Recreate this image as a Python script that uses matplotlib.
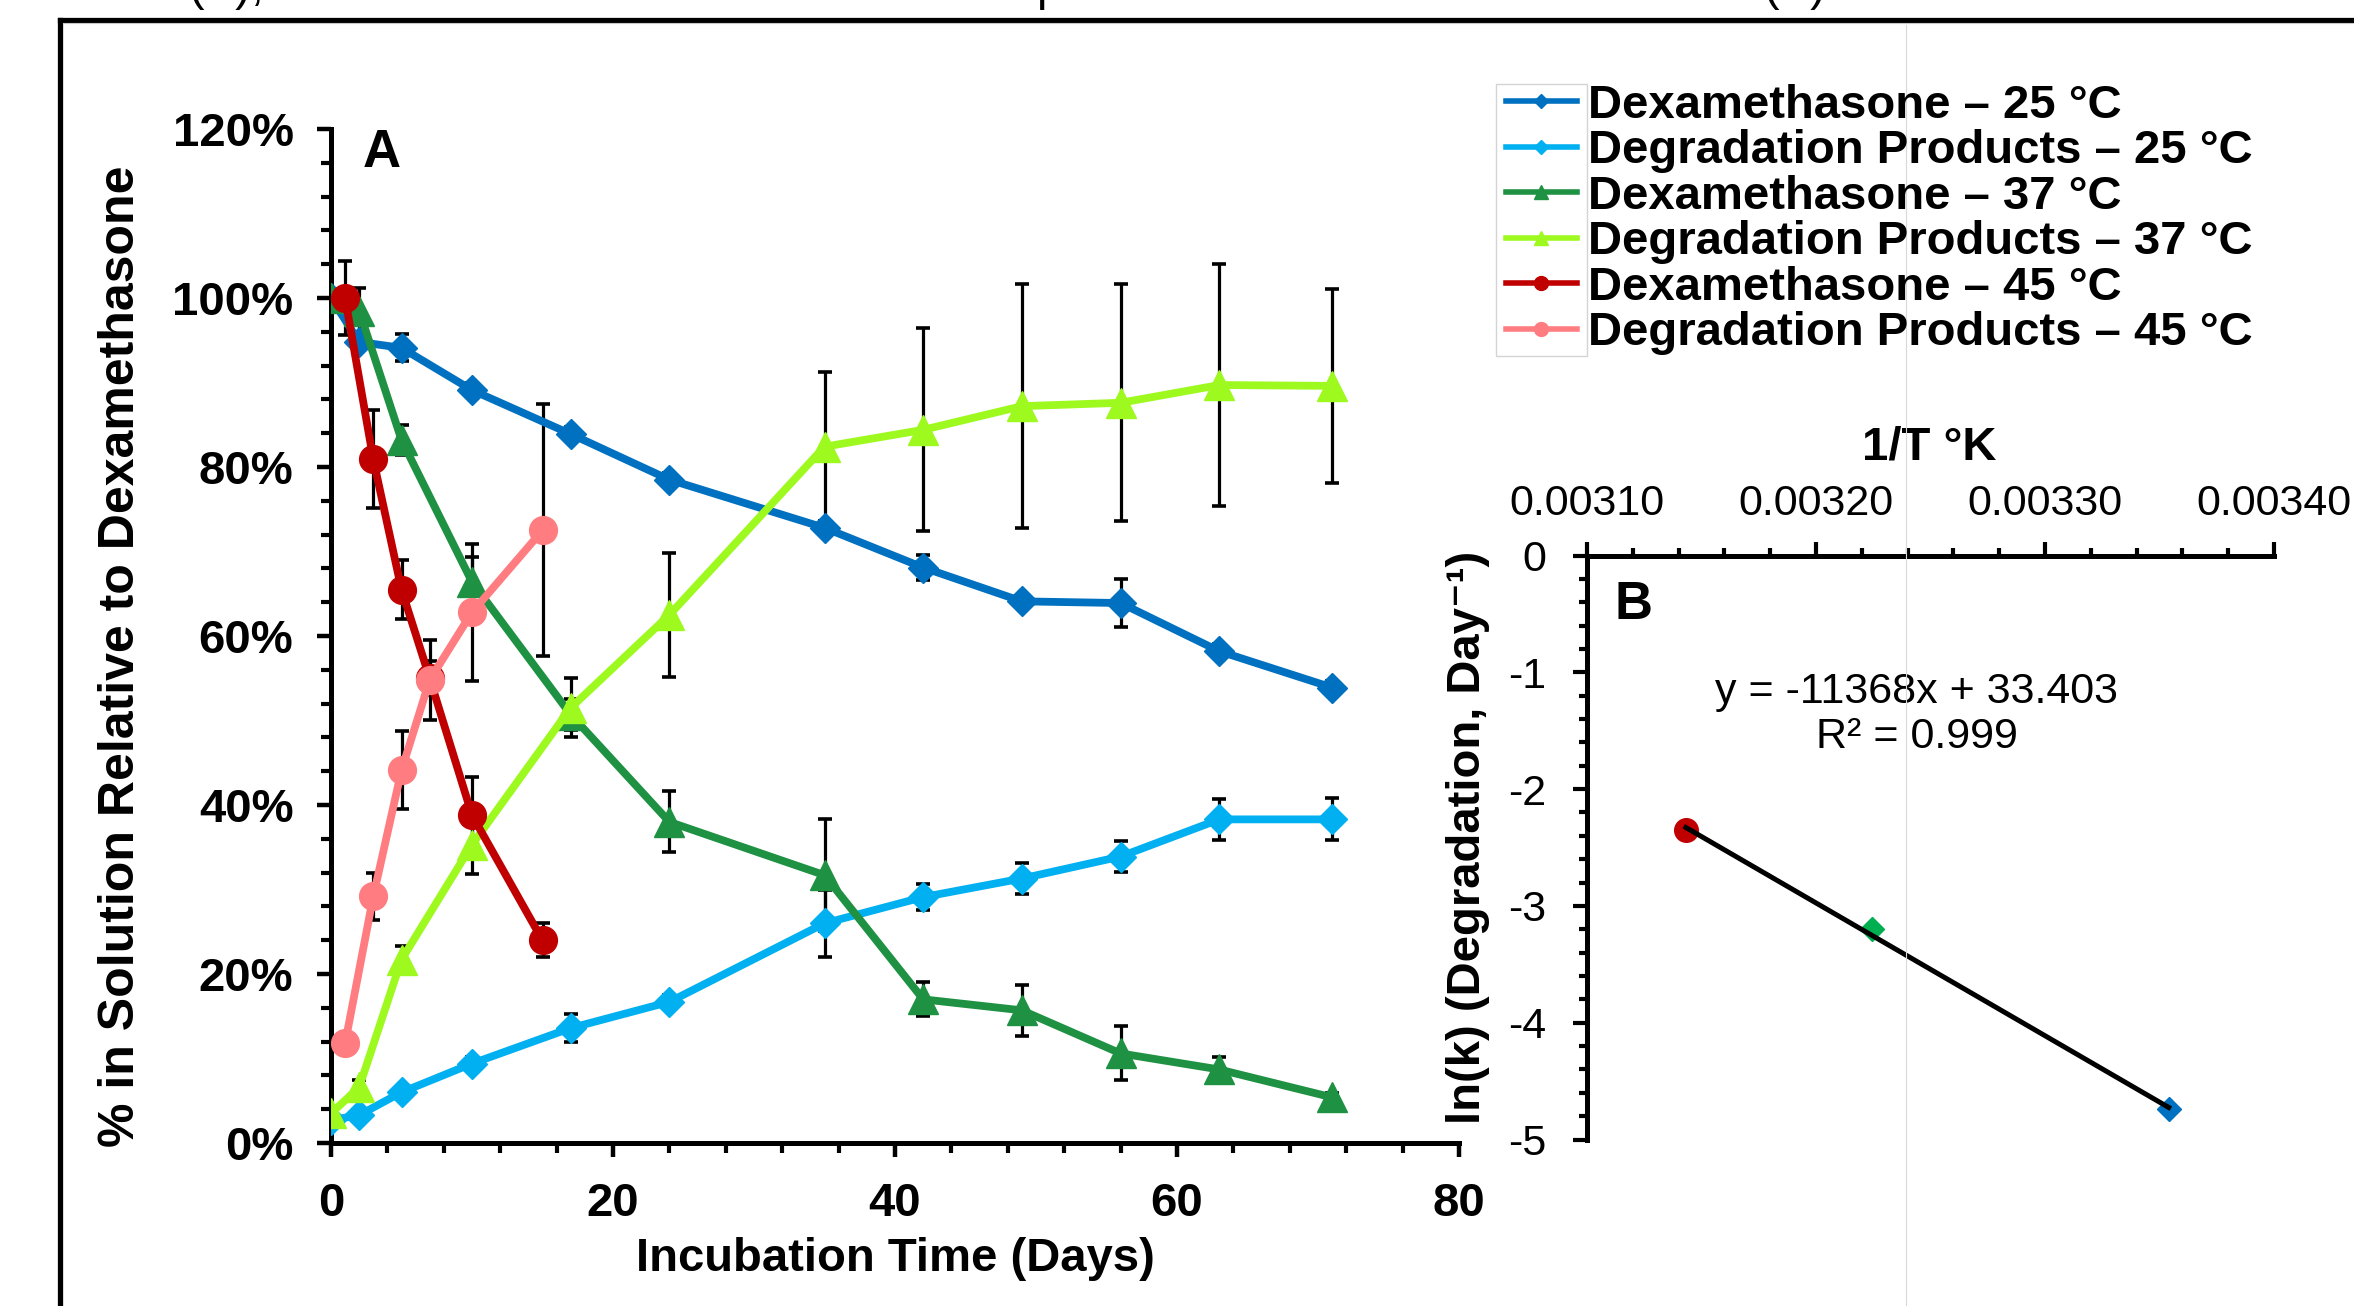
import numpy as np
import matplotlib
matplotlib.use('Agg')
import matplotlib.pyplot as plt
from matplotlib.ticker import MultipleLocator, PercentFormatter, FormatStrFormatter
from matplotlib.lines import Line2D
from matplotlib.patches import Rectangle

plt.rcParams['font.family'] = ['Liberation Sans', 'DejaVu Sans']
plt.rcParams['font.weight'] = 'bold'
plt.rcParams['axes.unicode_minus'] = False

# --- panel A: % in solution over time -------------------------------------
days_25_37 = [0, 2, 5, 10, 17, 24, 35, 42, 49, 56, 63, 71]
days_45 = [1, 3, 5, 7, 10, 15]

dex_25 = [100, 94.8, 94.1, 89.1, 83.9, 78.5, 72.8, 68.1, 64.1, 63.9, 58.2, 53.9]
dex_25_err = [0, 0.8, 1.6, 0.8, 0.8, 0.8, 0.8, 1.5, 0.8, 2.8, 0.8, 0.8]
deg_25 = [2.7, 3.3, 6.0, 9.4, 13.6, 16.7, 26.0, 29.1, 31.3, 33.9, 38.3, 38.3]
deg_25_err = [0, 0, 0.8, 0.8, 1.7, 0.8, 4.0, 1.5, 1.8, 1.8, 2.4, 2.5]

dex_37 = [100, 98.5, 83.2, 66.4, 50.7, 38.0, 31.7, 17.0, 15.7, 10.6, 8.7, 5.4]
dex_37_err = [0, 2.7, 1.8, 2.9, 1.8, 3.6, 6.6, 2.0, 3.0, 3.2, 1.5, 0.5]
deg_37 = [3.5, 6.6, 21.7, 35.3, 51.5, 62.5, 82.4, 84.4, 87.2, 87.6, 89.7, 89.6]
deg_37_err = [0, 0.8, 1.6, 3.5, 3.5, 7.3, 8.8, 12.0, 14.4, 14.0, 14.3, 11.5]

dex_45 = [100, 80.9, 65.5, 55.0, 38.8, 24.0]
dex_45_err = [4.4, 5.8, 3.5, 2.0, 4.5, 2.0]
deg_45 = [11.8, 29.2, 44.1, 54.8, 62.8, 72.5]
deg_45_err = [0.8, 2.8, 4.6, 4.7, 8.1, 14.9]

labels = ['Dexamethasone – 25 °C', 'Degradation Products – 25 °C',
          'Dexamethasone – 37 °C', 'Degradation Products – 37 °C',
          'Dexamethasone – 45 °C', 'Degradation Products – 45 °C']

# --- panel B: Arrhenius plot -------------------------------------------------
temps_c = [45, 37, 25]
ln_k = [-2.35, -3.20, -4.74]
trend_slope = -11368
trend_intercept = 33.403
r_squared = 0.999

W, H = 2354, 1306
fig = plt.figure(figsize=(W / 100, H / 100), dpi=100)

axA = fig.add_axes([331 / W, 1 - 1143 / H, 1128 / W, 1014 / H])

series = [
    (days_25_37, dex_25, dex_25_err, '#0070C0', 'D', 15),
    (days_25_37, deg_25, deg_25_err, '#00B0F0', 'D', 15),
    (days_25_37, dex_37, dex_37_err, '#1F9142', '^', 21),
    (days_25_37, deg_37, deg_37_err, '#9EF91E', '^', 21),
    (days_45, dex_45, dex_45_err, '#C00000', 'o', 20),
    (days_45, deg_45, deg_45_err, '#FF7C80', 'o', 20),
]

handles = []
for i, (x, y, err, col, mk, ms) in enumerate(series):
    axA.errorbar(x, y, yerr=err, fmt='none', ecolor='black', elinewidth=2.3,
                 capsize=5, capthick=2.6, zorder=2)
    axA.plot(x, y, color=col, marker=mk, markersize=ms, lw=5.6,
             markeredgecolor=col, zorder=3 + i)
    handles.append(Line2D([], [], color=col, marker=mk, lw=4,
                          markersize=ms * 0.5, markeredgecolor=col))

axA.set_xlim(0, 80)
axA.set_ylim(0, 120)
axA.xaxis.set_major_locator(MultipleLocator(20))
axA.xaxis.set_minor_locator(MultipleLocator(4))
axA.yaxis.set_major_locator(MultipleLocator(20))
axA.yaxis.set_minor_locator(MultipleLocator(4))
axA.yaxis.set_major_formatter(PercentFormatter(xmax=100, decimals=0))
for s in ['top', 'right']:
    axA.spines[s].set_visible(False)
for s in ['left', 'bottom']:
    axA.spines[s].set_linewidth(3.6)
axA.tick_params(which='major', direction='out', length=10, width=3.2,
                labelsize=34)
axA.tick_params(axis='y', which='major', pad=17)
axA.tick_params(axis='x', which='major', pad=18)
axA.tick_params(which='minor', direction='out', length=7, width=3)
axA.set_xlabel('Incubation Time (Days)', fontsize=34, fontweight='bold')
axA.set_ylabel('% in Solution Relative to Dexamethasone', fontsize=36,
               fontweight='bold')
axA.xaxis.set_label_coords(0.5, -0.093)
axA.yaxis.set_label_coords(-0.166, 0.48)
axA.text(0.045, 0.976, 'A', transform=axA.transAxes, fontsize=38,
         fontweight='bold', va='center', ha='center')

fig.legend(handles, labels, loc='upper left',
           bbox_to_anchor=(1506 / W, 1 - 84 / H), frameon=False,
           prop={'size': 34, 'weight': 'bold'}, handlelength=1.5,
           handletextpad=0.24, labelspacing=0.03, borderpad=0,
           borderaxespad=0)
fig.add_artist(Rectangle((1496 / W, 1 - 356 / H), 91 / W, 272 / H,
                         transform=fig.transFigure, fill=False,
                         ec='#D4D4D4', lw=1))

# panel B
axB = fig.add_axes([1587 / W, 1 - 1139.5 / H, 687 / W, 584 / H])
inv_t = [1 / (t + 273.15) for t in temps_c]
fit_x = np.array([min(inv_t), max(inv_t)])
axB.plot(fit_x, trend_slope * fit_x + trend_intercept, color='black',
         lw=3.6, zorder=4)
b_styles = [('#C00000', 'o', 17), ('#00B050', 'D', 12), ('#0070C0', 'D', 12)]
for xv, yv, (col, mk, ms) in zip(inv_t, ln_k, b_styles):
    axB.plot([xv], [yv], marker=mk, color=col, markersize=ms,
             markeredgecolor=col, ls='none', zorder=3)

axB.set_xlim(0.00310, 0.00340)
axB.set_ylim(-5, 0)
axB.xaxis.tick_top()
axB.xaxis.set_label_position('top')
axB.xaxis.set_major_locator(MultipleLocator(0.0001))
axB.xaxis.set_minor_locator(MultipleLocator(0.00002))
axB.xaxis.set_major_formatter(FormatStrFormatter('%.5f'))
axB.yaxis.set_major_locator(MultipleLocator(1))
axB.yaxis.set_minor_locator(MultipleLocator(0.2))
axB.yaxis.set_major_formatter(FormatStrFormatter('%d'))
for s in ['bottom', 'right']:
    axB.spines[s].set_visible(False)
for s in ['left', 'top']:
    axB.spines[s].set_linewidth(3.6)
axB.tick_params(which='major', direction='out', length=10, width=3,
                labelsize=31)
axB.tick_params(axis='x', which='major', pad=13)
axB.tick_params(axis='y', which='major', pad=19)
axB.tick_params(which='minor', direction='out', length=6, width=3)
plt.setp(axB.get_xticklabels() + axB.get_yticklabels(), fontweight='normal')
axB.set_xlabel('1/T °K', fontsize=34, fontweight='bold')
axB.xaxis.set_label_coords(0.498, 1.165)
axB.set_ylabel('ln(k) (Degradation, Day⁻¹)', fontsize=34, fontweight='bold')
axB.yaxis.set_label_coords(-0.141, 0.518)
axB.text(0.068, 0.915, 'B', transform=axB.transAxes, fontsize=38,
         fontweight='bold', va='center', ha='center')
axB.text(0.48, 0.766, f'y = {trend_slope}x + {trend_intercept}',
         transform=axB.transAxes, fontsize=31, fontweight='normal',
         ha='center', va='center')
axB.text(0.48, 0.689, f'R² = {r_squared}', transform=axB.transAxes,
         fontsize=31, fontweight='normal', ha='center', va='center')

# frame around the figure panel and caption text running off the top edge
fig.add_artist(Line2D([60 / W, 1], [1 - 19.5 / H] * 2, transform=fig.transFigure,
                      color='black', lw=3.8))
fig.add_artist(Line2D([60 / W] * 2, [0, 1 - 19.5 / H], transform=fig.transFigure,
                      color='black', lw=3.8))
fig.add_artist(Line2D([63 / W, 1], [1 - 23 / H] * 2, transform=fig.transFigure,
                      color='#C8C8C8', lw=0.8))
fig.add_artist(Line2D([1906 / W] * 2, [0, 1 - 25 / H], transform=fig.transFigure,
                      color='#D9D9D9', lw=0.8))
for xpos, txt in [(188, '(A),'), (1036, 'p'), (1763, '(B)')]:
    fig.text(xpos / W, 1.0, txt, fontsize=34, fontweight='normal',
             va='baseline', ha='left')

fig.savefig('out.png', dpi=100)
